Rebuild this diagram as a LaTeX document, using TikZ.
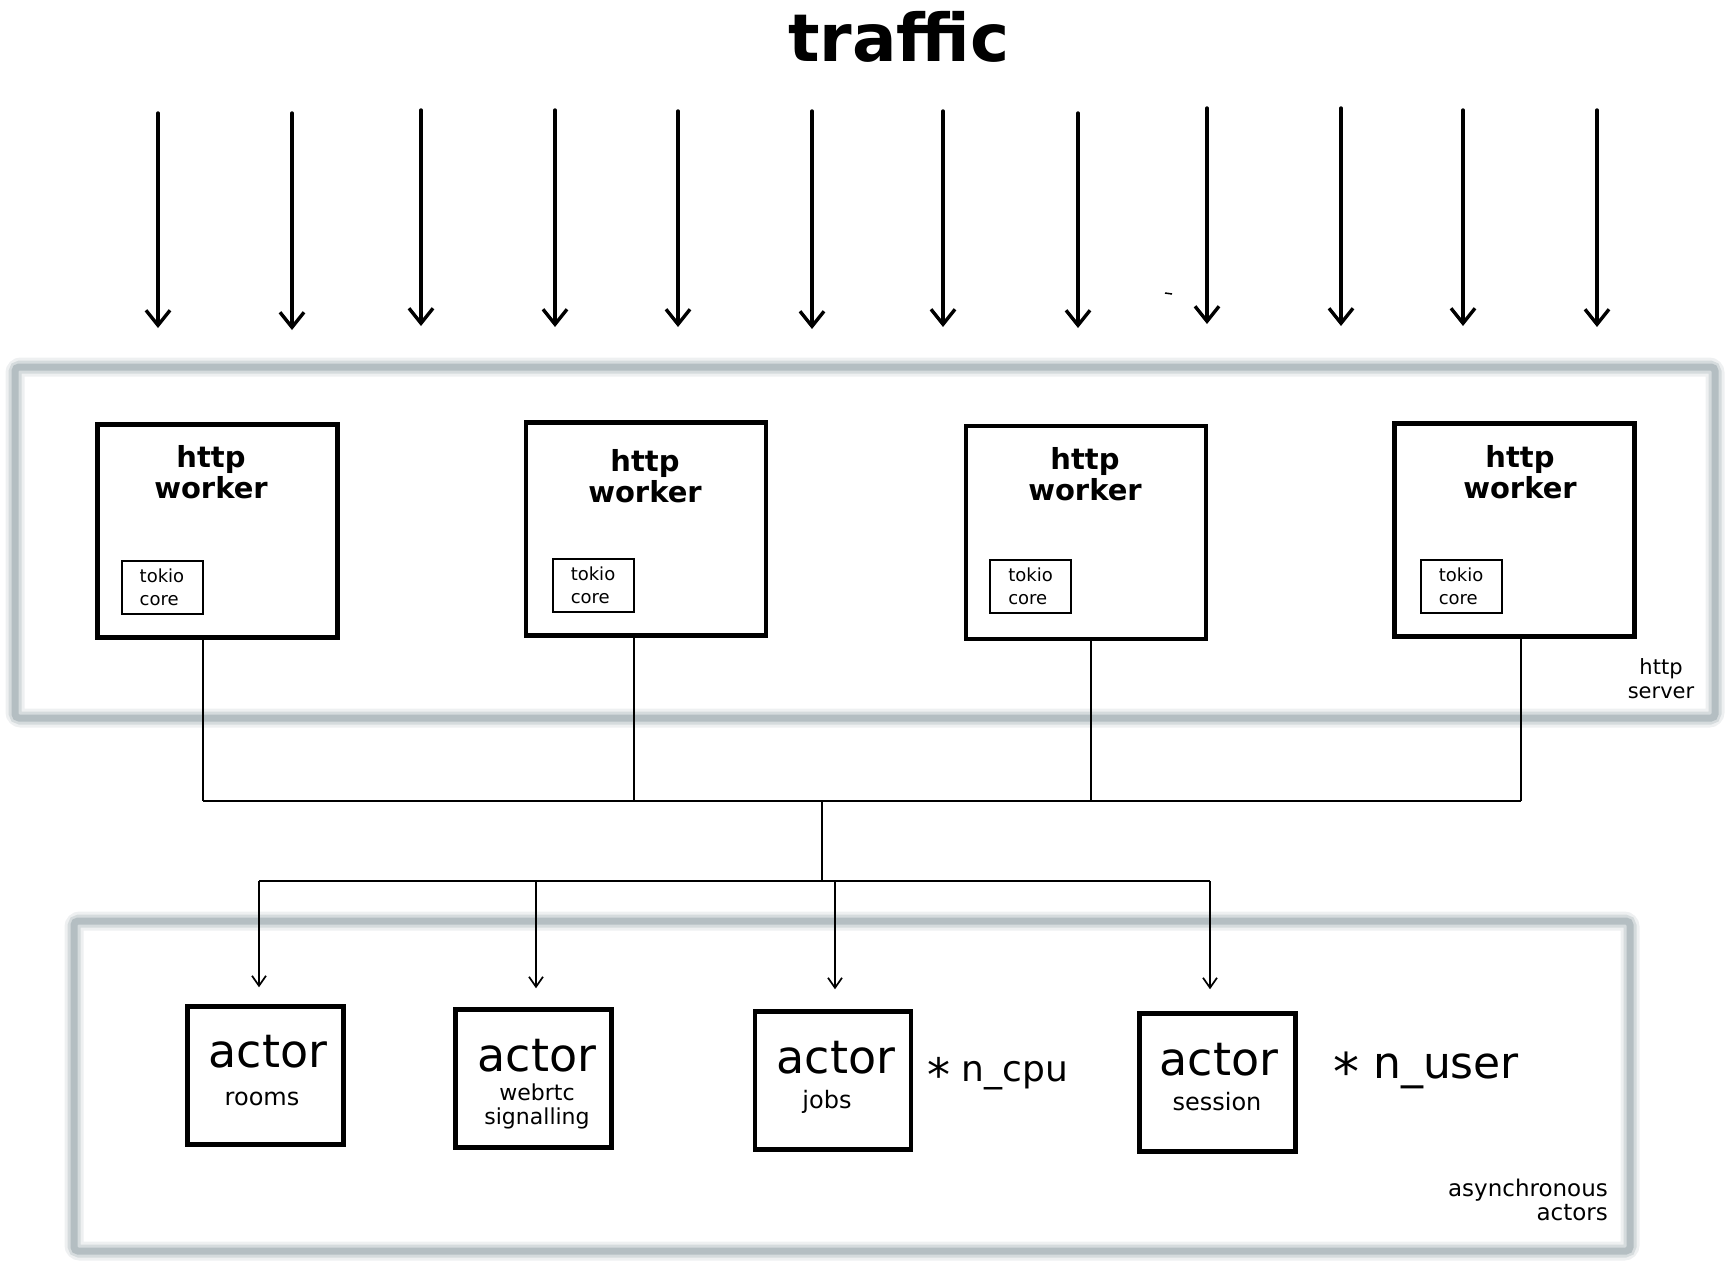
\documentclass[tikz,border=0pt]{standalone}
\usepackage{fontspec}
\setmainfont{DejaVu Sans}
\usetikzlibrary{arrows.meta,calc}
\definecolor{framecol}{HTML}{B4BEC2}
\definecolor{framehalo}{HTML}{D5DBDD}
\definecolor{framehalo2}{HTML}{EEF0F1}
\begin{document}
\begin{tikzpicture}[x=1pt,y=-1pt,
  frameback2/.style={line width=19pt, framehalo2, rounded corners=6pt},
  frameback/.style={line width=13pt, framehalo, rounded corners=5pt},
  framefront/.style={line width=7pt, framecol, rounded corners=4pt},
  inflow/.style={line width=3.4pt, line cap=round, -{Straight Barb[length=15pt,width=24pt]}},
  wire/.style={line width=1.7pt},
  feed/.style={line width=1.7pt, -{Straight Barb[length=10pt,width=14pt]}},
  workerbox/.style={draw, line width=4.5pt, minimum width=240pt, minimum height=213pt, inner sep=0pt},
  workerlbl/.style={font=\fontsize{29}{31}\selectfont\bfseries, align=center, inner sep=0pt},
  tokiobox/.style={draw, line width=2pt, minimum width=81pt, minimum height=53pt, inner sep=0pt, align=left, font=\fontsize{18}{23}\selectfont},
  actorbox/.style={draw, line width=4.5pt, minimum width=156pt, minimum height=138pt, inner sep=0pt},
  actorlbl/.style={font=\fontsize{46}{48}\selectfont, inner sep=0pt},
  sublbl/.style={font=\fontsize{24}{24}\selectfont, inner sep=0pt},
  smalllbl/.style={font=\fontsize{21}{24}\selectfont, inner sep=0pt, align=center},
  notelbl/.style={inner sep=0pt, anchor=west}
]
\useasboundingbox (0,0) rectangle (1728,1262);

% frames
\draw[frameback2] (15,367) rectangle (1715,718);
\draw[frameback] (15,367) rectangle (1715,718);
\draw[framefront] (15,367) rectangle (1715,718);
\draw[frameback2] (74,921) rectangle (1630,1251);
\draw[frameback] (74,921) rectangle (1630,1251);
\draw[framefront] (74,921) rectangle (1630,1251);

% title
\node[font=\fontsize{66}{70}\selectfont\bfseries, inner sep=0pt] (traffic) at (899,37) {traffic};

% incoming traffic arrows
\foreach \i/\x/\ya/\yb in {1/158/113/328, 2/292/113/330, 3/421/110/326, 4/555/110/327,
  5/678/111/327, 6/812/111/329, 7/943/111/327, 8/1078/113/328, 9/1207/108/324,
  10/1341/108/326, 11/1463/110/326, 12/1597/110/327} {
  \coordinate (src\i) at (\x,\ya);
  \coordinate (dst\i) at (\x,\yb);
  \draw[inflow] (src\i) -- (dst\i);
}
\coordinate (mark1) at (1165,293);
\coordinate (mark2) at (1172,294);
\draw[line width=1.5pt] (mark1) -- (mark2);

% http workers
\node[workerbox] (w1) at (217.5,531) {};
\node[workerbox] (w2) at (646,529) {};
\node[workerbox] (w3) at (1086,532.5) {};
\node[workerbox] (w4) at (1514.5,530) {};

\node[workerlbl] (w1t) at (211,472) {http\\worker};
\node[workerlbl] (w2t) at (645,476) {http\\worker};
\node[workerlbl] (w3t) at (1085,474) {http\\worker};
\node[workerlbl] (w4t) at (1520,472) {http\\worker};

\node[tokiobox] (t1) at (162,587) {tokio\\core};
\node[tokiobox] (t2) at (593,585) {tokio\\core};
\node[tokiobox] (t3) at (1030.5,586.5) {tokio\\core};
\node[tokiobox] (t4) at (1461,586) {tokio\\core};

\node[smalllbl] (httpserver) at (1661,679) {http\\server};

% upper bus
\coordinate (b1) at (203,801);
\coordinate (b2) at (634,801);
\coordinate (b3) at (1091,801);
\coordinate (b4) at (1521,801);
\coordinate (bm) at (822,801);
\coordinate (lm) at (822,881);
\draw[wire] (w1.south -| b1) -- (b1);
\draw[wire] (w2.south -| b2) -- (b2);
\draw[wire] (w3.south -| b3) -- (b3);
\draw[wire] (w4.south -| b4) -- (b4);
\draw[wire] (b1) -- (b4);
\draw[wire] (bm) -- (lm);

% actors
\node[actorbox] (a1) at (265.5,1075.5) {};
\node[actorbox] (a2) at (533.5,1078.5) {};
\node[actorbox] (a3) at (833,1080.5) {};
\node[actorbox] (a4) at (1217.5,1082.5) {};

% lower bus
\coordinate (l1) at (259,881);
\coordinate (l2) at (536,881);
\coordinate (l3) at (835,881);
\coordinate (l4) at (1210,881);
\draw[wire] (l1) -- (l4);
\draw[feed] (l1) -- ($(l1 |- a1.north)+(0,-17)$);
\draw[feed] (l2) -- ($(l2 |- a2.north)+(0,-19)$);
\draw[feed] (l3) -- ($(l3 |- a3.north)+(0,-20)$);
\draw[feed] (l4) -- ($(l4 |- a4.north)+(0,-22)$);

\node[actorlbl] (a1t) at (268,1052) {actor};
\node[sublbl] (a1s) at (262,1099) {rooms};
\node[actorlbl] (a2t) at (537,1056) {actor};
\node[font=\fontsize{22}{24}\selectfont, align=center, inner sep=0pt] (a2s) at (537,1106) {webrtc\\signalling};
\node[actorlbl] (a3t) at (836,1058) {actor};
\node[sublbl] (a3s) at (827,1102) {jobs};
\node[actorlbl] (a4t) at (1219,1060) {actor};
\node[sublbl] (a4s) at (1217,1102) {session};

\node[notelbl, font=\fontsize{36}{38}\selectfont] (ncpu) at (927,1074) {{\fontsize{46}{46}\selectfont\raisebox{-0.4ex}{*}} n\_cpu};
\node[notelbl, font=\fontsize{44}{46}\selectfont] (nuser) at (1333,1071) {{\fontsize{52}{52}\selectfont\raisebox{-0.4ex}{*}} n\_user};

\node[font=\fontsize{23}{24}\selectfont, align=right, inner sep=0pt, anchor=east] (async) at (1608,1200) {asynchronous\\actors};
\end{tikzpicture}
\end{document}
